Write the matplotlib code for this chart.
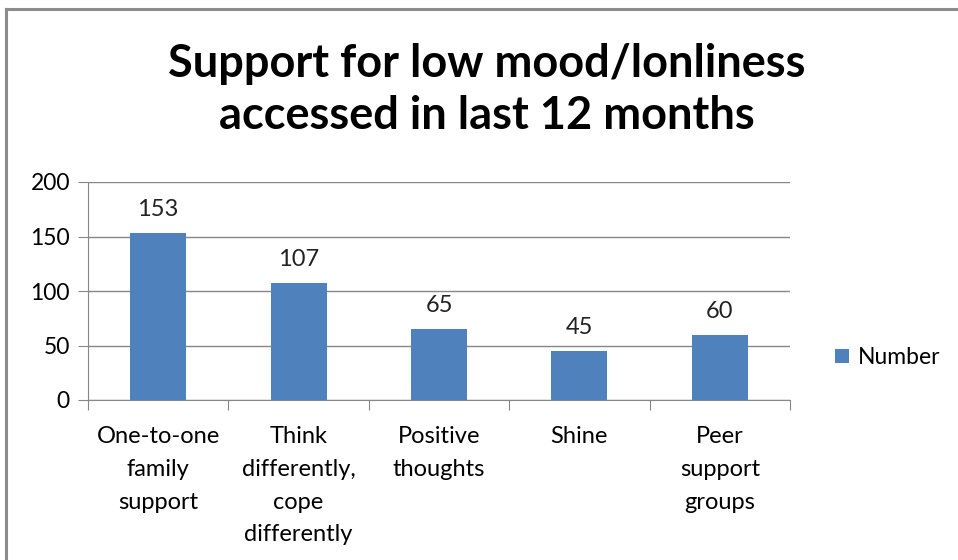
import matplotlib.pyplot as plt
from matplotlib.lines import Line2D

categories = ["One-to-one\nfamily\nsupport", "Think\ndifferently,\ncope\ndifferently",
              "Positive\nthoughts", "Shine", "Peer\nsupport\ngroups"]
values = [153, 107, 65, 45, 60]
yticks = [0, 50, 100, 150, 200]

plt.rcParams['font.family'] = ['Lato', 'DejaVu Sans']

fig = plt.figure(figsize=(9.58, 5.6), dpi=100)
ax = fig.add_axes([88 / 958, 1 - 400 / 560, 702 / 958, 218 / 560])

x = range(len(values))
bars = ax.bar(x, values, width=0.4, color='#4F81BD', label='Number', zorder=3)
for xi, v in zip(x, values):
    ax.text(xi, v + 12, str(v), ha='center', va='bottom', fontsize=17, color='#222222')

ax.set_xlim(-0.5, len(values) - 0.5)
ax.set_ylim(0, 200)
ax.set_yticks(yticks)
ax.set_yticklabels([str(t) for t in yticks], fontsize=16.5)
ax.yaxis.grid(True, color='#868686', linewidth=1, zorder=0)
ax.tick_params(axis='y', length=7, color='#868686', pad=6)

ax.set_xticks([i + 0.5 for i in range(-1, len(values))], minor=False)
ax.set_xticklabels([])
ax.set_xticks(list(x), minor=True)
ax.set_xticklabels(categories, minor=True, fontsize=17, linespacing=1.68, va='top')
ax.tick_params(axis='x', which='major', length=7, color='#868686', direction='out')
ax.tick_params(axis='x', which='minor', length=0, pad=19)

for s in ['top', 'right']:
    ax.spines[s].set_visible(False)
for s in ['left', 'bottom']:
    ax.spines[s].set_color('#868686')

ax.legend(loc='center left', bbox_to_anchor=(1.035, 0.195), frameon=False,
          fontsize=16.5, handlelength=0.6, handleheight=0.6, handletextpad=0.4)

fig.text(0.508, 1 - 90 / 560, 'Support for low mood/lonliness\naccessed in last 12 months',
         ha='center', va='center', fontsize=32.5, fontweight='bold', linespacing=1.3)

fig.add_artist(Line2D([6 / 958, 1], [1 - 9 / 560, 1 - 9 / 560], color='#8c8c8c', linewidth=2.2))
fig.add_artist(Line2D([6 / 958, 6 / 958], [0, 1 - 9 / 560], color='#8c8c8c', linewidth=2.2))

fig.savefig('out.png', dpi=100)
